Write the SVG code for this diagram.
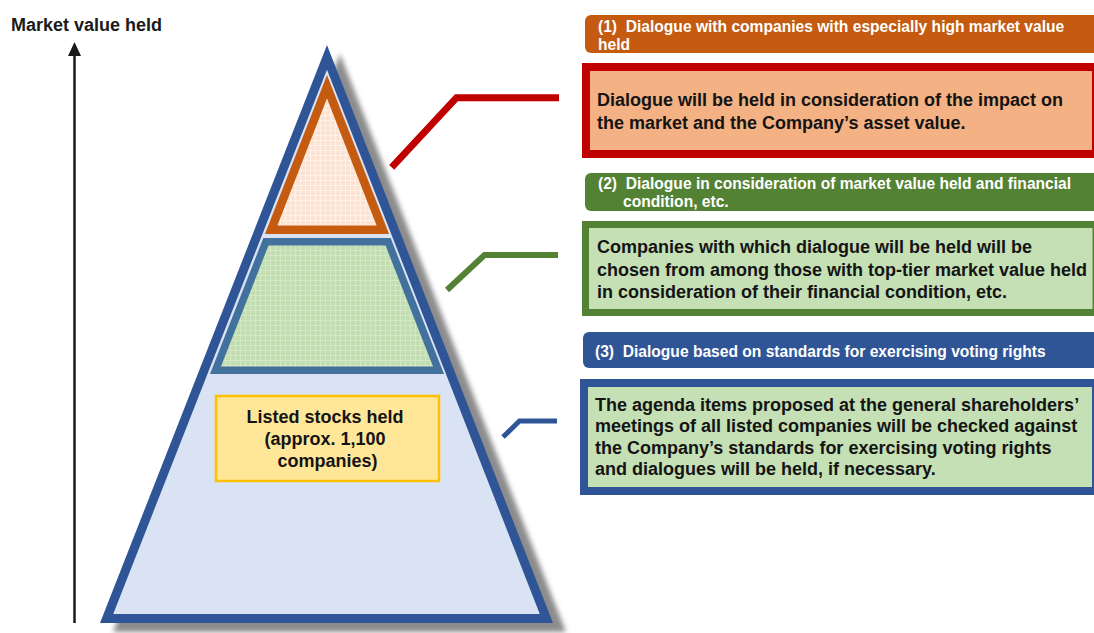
<svg xmlns="http://www.w3.org/2000/svg" width="1094" height="633" viewBox="0 0 1094 633">
  <style>
    .t { font-family: "Liberation Sans", Arial, sans-serif; font-weight: bold; }
    .body { font-size: 18px; fill: #141414; }
    .head { font-size: 15.6px; fill: #ffffff; }
    .conn { fill: none; stroke-linejoin: miter; stroke-linecap: butt; }
  </style>
  <defs>
    <pattern id="gridPeach" width="5" height="5" patternUnits="userSpaceOnUse">
      <rect width="5" height="5" fill="#FBE2D2"/>
      <path d="M0 0.5H5M0.5 0V5" stroke="#FEF1E8" stroke-width="1"/>
    </pattern>
    <pattern id="gridGreen" width="5" height="5" patternUnits="userSpaceOnUse">
      <rect width="5" height="5" fill="#C2DEB0"/>
      <path d="M0 0.5H5M0.5 0V5" stroke="#D3E8C6" stroke-width="1"/>
    </pattern>
    <filter id="soft" x="-10%" y="-10%" width="120%" height="120%">
      <feGaussianBlur stdDeviation="2.5"/>
    </filter>
  </defs>

  <!-- vertical axis -->
  <g id="axis">
    <text class="t" x="11" y="31" font-size="18" fill="#1a1a1a">Market value held</text>
    <line x1="74.5" y1="623" x2="74.5" y2="54" stroke="#1a1a1a" stroke-width="2.5"/>
    <polygon points="74.5,42 68,56 81,56" fill="#1a1a1a"/>
  </g>

  <!-- pyramid -->
  <g id="pyramid">
    <polygon points="340,54 566,632 113,632" fill="#8c8c8c" filter="url(#soft)"/>
    <polygon points="327,57.3 546.4,618.5 106.6,618.5" fill="#DAE3F3" stroke="#2F5597" stroke-width="9"/>
  </g>

  <g id="tier-top">
    <polygon points="327,86.6 382.8,229.75 271.2,229.75" fill="url(#gridPeach)" stroke="#C55A11" stroke-width="8.5"/>
  </g>

  <g id="tier-middle">
    <polygon points="265.9,241.75 388.1,241.75 438.5,370.25 215.5,370.25" fill="url(#gridGreen)" stroke="#41719C" stroke-width="7.5"/>
  </g>

  <g id="tier-base-label">
    <rect x="216" y="396" width="223" height="85" fill="#FFE699" stroke="#FFC000" stroke-width="2.5"/>
    <text class="t body" text-anchor="middle">
      <tspan x="327.5" y="423">Listed stocks held</tspan>
      <tspan x="327.5" y="445">(approx. 1,100</tspan>
      <tspan x="327.5" y="467">companies)</tspan>
    </text>
  </g>

  <!-- leader lines from tiers to descriptions -->
  <g id="connectors">
    <polyline class="conn" points="391.7,167.3 456.5,97.7 559,97.7" stroke="#C00000" stroke-width="7"/>
    <polyline class="conn" points="447,290 484.5,255 558,255" stroke="#548235" stroke-width="6"/>
    <polyline class="conn" points="503,437 519.5,421 557,421" stroke="#2F5597" stroke-width="5"/>
  </g>

  <!-- (1) -->
  <g id="header-1">
    <rect x="585" y="15" width="530" height="38" rx="6" fill="#C55A11"/>
    <text class="t head">
      <tspan x="598" y="31.5">(1)&#160; Dialogue with companies with especially high market value</tspan>
      <tspan x="598" y="50">held</tspan>
    </text>
  </g>
  <g id="desc-1">
    <rect x="586" y="67" width="510" height="87" fill="#F4B183" stroke="#C00000" stroke-width="8"/>
    <text class="t body">
      <tspan x="597" y="106">Dialogue will be held in consideration of the impact on</tspan>
      <tspan x="597" y="129">the market and the Company’s asset value.</tspan>
    </text>
  </g>

  <!-- (2) -->
  <g id="header-2">
    <rect x="585" y="173" width="530" height="38" rx="6" fill="#548235"/>
    <text class="t head">
      <tspan x="598" y="188.5">(2)&#160; Dialogue in consideration of market value held and financial</tspan>
      <tspan x="623" y="207">condition, etc.</tspan>
    </text>
  </g>
  <g id="desc-2">
    <rect x="585.5" y="224.5" width="510.5" height="88" fill="#C5E0B4" stroke="#548235" stroke-width="7"/>
    <text class="t body">
      <tspan x="597" y="253">Companies with which dialogue will be held will be</tspan>
      <tspan x="597" y="275.5">chosen from among those with top-tier market value held</tspan>
      <tspan x="597" y="297.5">in consideration of their financial condition, etc.</tspan>
    </text>
  </g>

  <!-- (3) -->
  <g id="header-3">
    <rect x="583" y="332" width="532" height="36" rx="6" fill="#2F5597"/>
    <text class="t head">
      <tspan x="595" y="356.5">(3)&#160; Dialogue based on standards for exercising voting rights</tspan>
    </text>
  </g>
  <g id="desc-3">
    <rect x="584" y="383" width="512" height="108" fill="#C5E0B4" stroke="#2F5597" stroke-width="8"/>
    <text class="t body">
      <tspan x="595" y="411">The agenda items proposed at the general shareholders’</tspan>
      <tspan x="595" y="432.3">meetings of all listed companies will be checked against</tspan>
      <tspan x="595" y="453.7">the Company’s standards for exercising voting rights</tspan>
      <tspan x="595" y="475">and dialogues will be held, if necessary.</tspan>
    </text>
  </g>
</svg>
